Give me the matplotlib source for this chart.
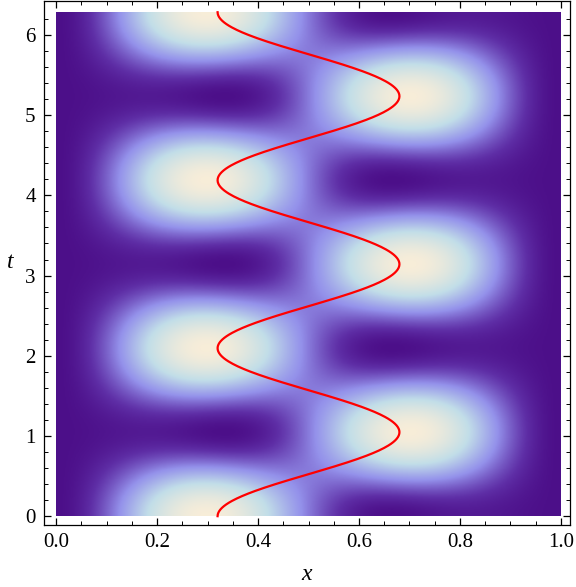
import numpy as np
import matplotlib
matplotlib.use('Agg')
import matplotlib.pyplot as plt
from matplotlib.colors import LinearSegmentedColormap

# two lowest states of a particle in a box, energy gap read from the period of <x>
n_states = [1, 2]
omega = 3.0            # oscillation frequency (period 2*pi/3 ~ 2.09)
x_range = [0.0, 1.0]
t_range = [0.0, 2 * np.pi]

x_ticks = [0.0, 0.2, 0.4, 0.6, 0.8, 1.0]
x_tick_labels = ['0.0', '0.2', '0.4', '0.6', '0.8', '1.0']
t_ticks = [0, 1, 2, 3, 4, 5, 6]
t_tick_labels = ['0', '1', '2', '3', '4', '5', '6']

# colours similar to the Mathematica density default
cmap_stops = [0.0, 0.12, 0.38, 0.68, 1.0]
cmap_colors = [(0.30, 0.06, 0.54), (0.37, 0.18, 0.65), (0.58, 0.57, 0.92),
               (0.76, 0.87, 0.91), (0.97, 0.93, 0.85)]
cmap = LinearSegmentedColormap.from_list('mma', list(zip(cmap_stops, cmap_colors)))

plt.rcParams['font.family'] = 'serif'
plt.rcParams['font.serif'] = ['Liberation Serif', 'Times New Roman', 'DejaVu Serif']

x = np.linspace(x_range[0], x_range[1], 400)
t = np.linspace(t_range[0], t_range[1], 600)
X, T = np.meshgrid(x, t)
psi1 = np.sin(n_states[0] * np.pi * X)
psi2 = np.sin(n_states[1] * np.pi * X)
density = psi1**2 + psi2**2 + 2 * psi1 * psi2 * np.cos(omega * T)

# expectation value of x from the density
x_mean = (density * X).sum(axis=1) / density.sum(axis=1)

fig = plt.figure(figsize=(5.76, 5.87), dpi=100)
ax = fig.add_axes([44 / 576, 62 / 587, 526 / 576, 524 / 587])

ax.imshow(density, extent=[x_range[0], x_range[1], t_range[0], t_range[1]],
          origin='lower', aspect='auto', cmap=cmap, interpolation='bilinear',
          vmin=0, vmax=density.max())
ax.plot(x_mean, t, color='red', lw=1.6)

ax.set_xlim(x_range[0] - 0.024, x_range[1] + 0.018)
ax.set_ylim(t_range[0] - 0.11, t_range[1] + 0.14)

ax.set_xticks(x_ticks)
ax.set_xticklabels(x_tick_labels, family='Liberation Serif')
ax.set_yticks(t_ticks)
ax.set_yticklabels(t_tick_labels, family='Liberation Serif')
ax.set_xticks(np.arange(0, 1.001, 0.05), minor=True)
ax.set_yticks(np.arange(0, 6.3, 0.2), minor=True)
ax.tick_params(which='both', direction='in', top=True, right=True, labelsize=15, pad=6)
ax.tick_params(which='major', length=5, width=0.9)
ax.tick_params(which='minor', length=3, width=0.7)
for s in ax.spines.values():
    s.set_linewidth(0.9)

ax.set_xlabel('x', family='Liberation Serif', style='italic', fontsize=17,
              ha='center', va='center')
ax.set_ylabel('t', family='Liberation Serif', style='italic', fontsize=17,
              rotation=0, ha='center', va='center')
ax.xaxis.set_label_coords(0.5, -0.095)
ax.yaxis.set_label_coords(-0.065, 0.5)

fig.savefig('out.png', dpi=100)
